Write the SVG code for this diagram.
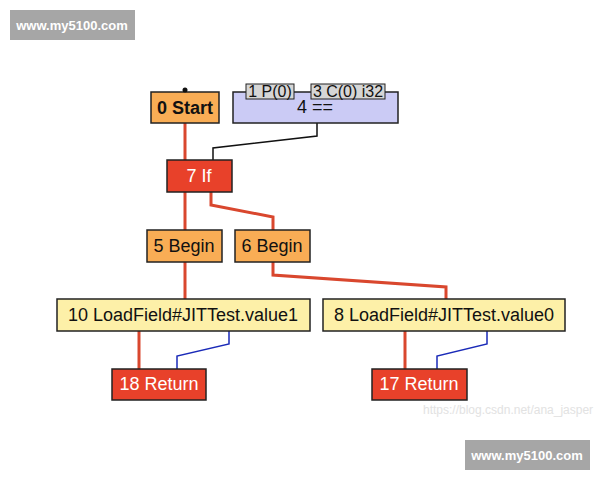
<svg xmlns="http://www.w3.org/2000/svg" width="600" height="480" viewBox="0 0 600 480">
<style>
text{font-family:"Liberation Sans",Arial,sans-serif;font-size:18px;text-anchor:middle;fill:#111}
.box{stroke:#222;stroke-width:1.5}
.ctrl{fill:#f9ad55}
.red{fill:#e8412a}
.wt{fill:#fff}
.ld{fill:#fdf0a8}
.cmp{fill:#cbcbf5}
.in{fill:#d6d6d6;stroke:#222;stroke-width:1}
.sm{font-size:16px}
.e{fill:none;stroke:#d9472e;stroke-width:3}
.d{fill:none;stroke:#1a2ab8;stroke-width:1.5}
.k{fill:none;stroke:#111;stroke-width:1.5}
.wm{fill:#a6a6a6}
.wmt{fill:#fff;font-size:13px;font-weight:bold}
.url{fill:#e2e2e2;font-size:12px;text-anchor:start}
</style>
<rect width="600" height="480" fill="#fff"/>
<g id="connectors">
<path class="e" d="M185 123V160"/>
<path class="k" d="M317 123V136L213 148V160"/>
<path class="e" d="M185 192V230"/>
<path class="e" d="M211 192V205L273 217V230"/>
<path class="e" d="M185 262V299"/>
<path class="e" d="M273 262V275L446 287V299"/>
<path class="e" d="M139 331V369"/>
<path class="d" d="M229 331V344L177 356V369"/>
<path class="e" d="M405 331V369"/>
<path class="d" d="M487 331V344L437 356V369"/>
</g>
<g id="n0"><rect class="box ctrl" x="151" y="92" width="68" height="31"/><text x="185" y="114" font-weight="bold">0 Start</text><circle cx="185" cy="90" r="2.5" fill="#111"/></g>
<g id="n4"><rect class="box cmp" x="233" y="92" width="165" height="31"/><text x="315" y="113">4 ==</text>
<rect class="in" x="246" y="84" width="48" height="15"/><text class="sm" x="270" y="97">1 P(0)</text>
<rect class="in" x="311" y="84" width="74" height="15"/><text class="sm" x="348" y="97">3 C(0) i32</text></g>
<g id="n7"><rect class="box red" x="167" y="160" width="65" height="32"/><text class="wt" x="199" y="182">7 If</text></g>
<g id="n5"><rect class="box ctrl" x="147" y="230" width="75" height="32"/><text x="184" y="252">5 Begin</text></g>
<g id="n6"><rect class="box ctrl" x="235" y="230" width="75" height="32"/><text x="272" y="252">6 Begin</text></g>
<g id="n10"><rect class="box ld" x="57" y="299" width="253" height="32"/><text x="183" y="321">10 LoadField#JITTest.value1</text></g>
<g id="n8"><rect class="box ld" x="323" y="299" width="242" height="32"/><text x="444" y="321">8 LoadField#JITTest.value0</text></g>
<g id="n18"><rect class="box red" x="112" y="369" width="94" height="31"/><text class="wt" x="159" y="390">18 Return</text></g>
<g id="n17"><rect class="box red" x="372" y="369" width="95" height="31"/><text class="wt" x="419" y="390">17 Return</text></g>
<text class="url" x="423" y="414">https://blog.csdn.net/ana_jasper</text>
<rect class="wm" x="10" y="10" width="125" height="30"/><text class="wmt" x="72" y="30">www.my5100.com</text>
<rect class="wm" x="465" y="440" width="125" height="30"/><text class="wmt" x="527" y="460">www.my5100.com</text>
</svg>
